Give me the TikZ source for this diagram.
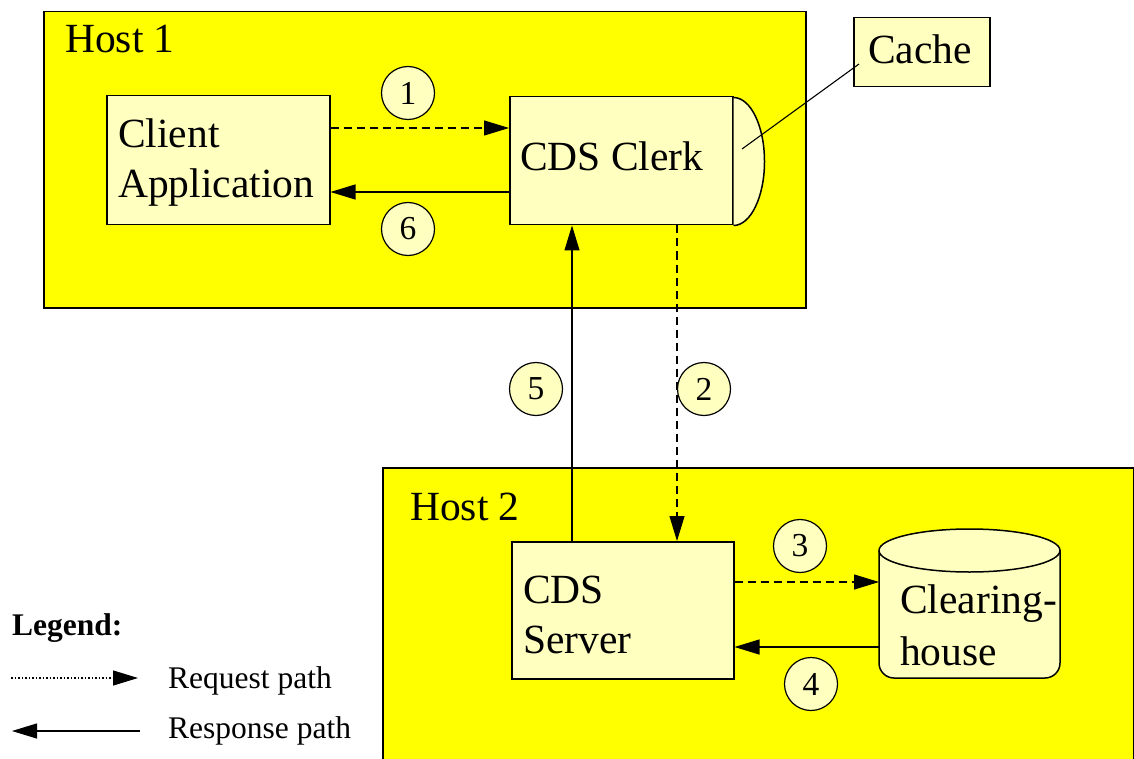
\documentclass[tikz,border=0pt]{standalone}
\usepackage{fontspec}
\setmainfont{Liberation Serif}
\usetikzlibrary{arrows.meta}
\definecolor{hostyellow}{RGB}{255,255,0}
\definecolor{paleyellow}{RGB}{255,255,192}
\tikzset{
  host/.style={draw=black, fill=hostyellow, line width=1.5pt, inner sep=0pt},
  box/.style={draw=black, fill=paleyellow, line width=1.5pt, inner sep=0pt},
  lbl/.style={anchor=base west, inner sep=0pt, font=\fontsize{41.5}{50}\selectfont},
  small/.style={anchor=base west, inner sep=0pt, font=\fontsize{31.5}{36}\selectfont},
  num/.style={circle, draw=black, fill=paleyellow, line width=1.2pt,
    minimum size=53pt, inner sep=0pt, font=\fontsize{33.5}{34}\selectfont},
  tip/.style={-{Triangle[length=25pt,width=15pt]}},
  req/.style={tip, line width=1.1pt, dash pattern=on 8pt off 5pt},
  resp/.style={tip, line width=1.1pt},
  dotline/.style={tip, line width=1.2pt, dash pattern=on 1.5pt off 2pt},
}
\begin{document}
\begin{tikzpicture}[x=1pt,y=-1pt]
\useasboundingbox (0,0) rectangle (1134,759);
\fill[white] (0,0) rectangle (1134,759);

% hosts
\node[host, anchor=north west, minimum width=762pt, minimum height=296pt] (h1) at (43,11) {};
\node[lbl] (h1lbl) at (65,53) {Host 1};
\begin{scope}
  \clip (0,0) rectangle (1134,759);
  \node[host, anchor=north west, minimum width=751pt, minimum height=330pt] (h2) at (382,467) {};
\end{scope}
\node[lbl] (h2lbl) at (410,520) {Host 2};

% client application
\node[box, anchor=north west, minimum width=223pt, minimum height=129pt] (client) at (106,95) {};
\node[lbl] (clientl1) at (118,148) {Client};
\node[lbl] (clientl2) at (118,198) {Application};

% CDS clerk with its cache compartment
\node[box, anchor=north west, minimum width=223pt, minimum height=128pt] (clerk) at (509,96) {};
\filldraw[box] (clerk.south east) arc[start angle=-90, end angle=90, x radius=31pt, y radius=64pt];
\node[lbl] (clerkl) at (520,171) {CDS Clerk};

% cache
\node[box, anchor=north west, minimum width=136pt, minimum height=69pt] (cache) at (853,17) {};
\node[lbl] (cachel) at (868,64) {Cache};
\coordinate (cachefrom) at (742,149);
\coordinate (cacheto) at (859,64);
\draw[line width=1.1pt] (cachefrom) -- (cacheto);

% CDS server
\node[box, anchor=north west, minimum width=222pt, minimum height=137pt] (server) at (511,541) {};
\node[lbl] (serverl1) at (523,603) {CDS};
\node[lbl] (serverl2) at (523,653) {Server};

% clearinghouse (cylinder with rounded base)
\node[anchor=north west, minimum width=181pt, minimum height=149pt, inner sep=0pt] (ch) at (879,529) {};
\filldraw[box] (879,550.5) -- (879,663) arc[start angle=180, end angle=270, radius=15pt]
  -- (1045,678) arc[start angle=270, end angle=360, radius=15pt]
  -- (1060,550.5) arc[start angle=0, end angle=180, x radius=90.5pt, y radius=21.5pt] -- cycle;
\draw[line width=1.5pt] (1060,550.5) arc[start angle=0, end angle=-180, x radius=90.5pt, y radius=21.5pt];
\node[lbl] (chl1) at (900,613) {Clearing-};
\node[lbl] (chl2) at (900,665) {house};

% connector levels
\coordinate (r1) at (0,128);
\coordinate (r6) at (0,192);
\coordinate (v5) at (572,0);
\coordinate (v2) at (677,0);
\coordinate (r3) at (0,582);
\coordinate (r4) at (0,647);

\draw[req]  (client.east |- r1) -- (clerk.west |- r1);
\draw[resp] (clerk.west |- r6) -- (client.east |- r6);
\draw[req]  (clerk.south -| v2) -- (server.north -| v2);
\draw[req]  (server.east |- r3) -- (ch.west |- r3);
\draw[resp] (ch.west |- r4) -- (server.east |- r4);
\draw[resp] (server.north -| v5) -- (clerk.south -| v5);

% step numbers
\node[num] (n1) at (408,93) {1};
\node[num] (n2) at (704,389) {2};
\node[num] (n3) at (800,546) {3};
\node[num] (n4) at (811,684) {4};
\node[num] (n5) at (536,389) {5};
\node[num] (n6) at (408,229) {6};

% legend
\node[small, font=\bfseries\fontsize{31.5}{36}\selectfont] (legend) at (12,635) {Legend:};
\coordinate (q0) at (11,678);
\coordinate (q1) at (138,678);
\draw[dotline] (q0) -- (q1);
\node[small] (reql) at (168,688) {Request path};
\coordinate (s0) at (140,731);
\coordinate (s1) at (12,731);
\draw[resp] (s0) -- (s1);
\node[small] (respl) at (168,738) {Response path};
\end{tikzpicture}
\end{document}
